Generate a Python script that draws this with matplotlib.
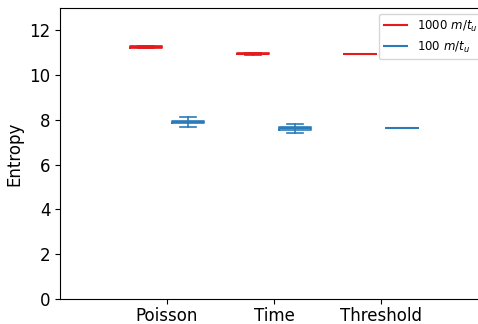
import matplotlib
matplotlib.use("Agg")
import matplotlib.pyplot as plt

categories = ["Poisson", "Time", "Threshold"]
series_labels = ["1000 $m/t_u$", "100 $m/t_u$"]
colors = ["#e41a1c", "#2b7bba"]

# five-number summaries per method: (whislo, q1, med, q3, whishi)
stats_1000 = [
    (11.20, 11.22, 11.25, 11.29, 11.30),
    (10.92, 10.93, 10.96, 10.98, 10.98),
    (10.95, 10.95, 10.95, 10.95, 10.95),
]
stats_100 = [
    (7.70, 7.88, 7.92, 7.95, 8.12),
    (7.40, 7.57, 7.64, 7.70, 7.83),
    (7.62, 7.62, 7.62, 7.62, 7.62),
]


def to_bxp(rows):
    return [dict(whislo=a, q1=b, med=c, q3=d, whishi=e, fliers=[]) for a, b, c, d, e in rows]


fig = plt.figure(figsize=(4.78, 3.24), dpi=100)
ax = fig.add_axes([60 / 478, 25 / 324, 428 / 478, 291 / 324])

offsets = [-0.2, 0.2]
for stats, off, col, lab in zip([stats_1000, stats_100], offsets, colors, series_labels):
    pos = [i + 1 + off for i in range(len(categories))]
    style = dict(color=col, linewidth=1.2)
    ax.bxp(to_bxp(stats), positions=pos, widths=0.3, showfliers=False,
           boxprops=style, whiskerprops=style, capprops=style,
           medianprops=dict(color=col, linewidth=1.5))
    ax.plot([], [], color=col, label=lab)

ax.set_xticks(range(1, len(categories) + 1))
ax.set_xticklabels(categories, fontsize=12)
ax.tick_params(axis="x", pad=2.5)
ax.tick_params(axis="y", labelsize=12)
ax.set_xlim(0.0, 4.0)
ax.set_ylim(0, 13)
ax.set_ylabel("Entropy", fontsize=12)
ax.legend(loc="upper right", fontsize=8.5)

fig.savefig("out.png", dpi=100)
